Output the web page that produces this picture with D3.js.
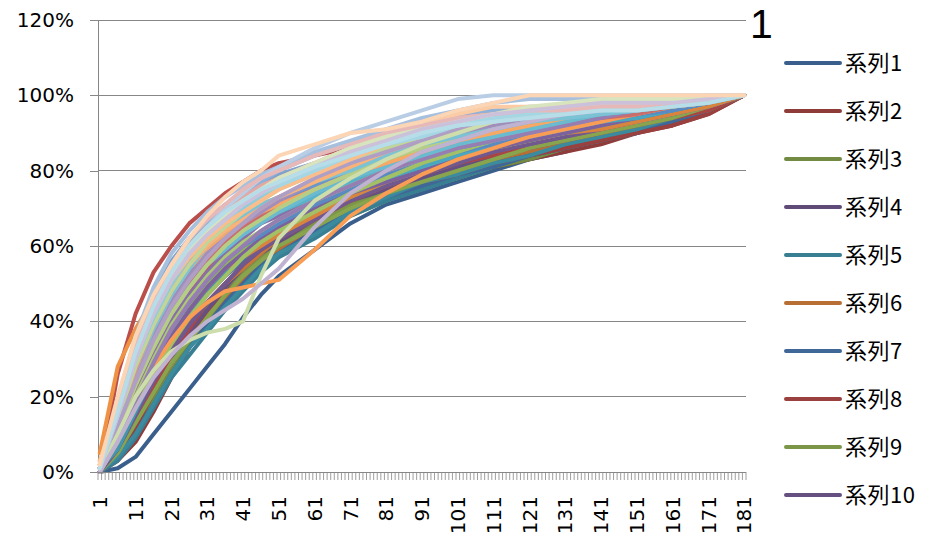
<!DOCTYPE html>
<html>
<head>
<meta charset="utf-8">
<script src="https://cdn.jsdelivr.net/npm/d3@7/dist/d3.min.js"></script>
<style>
  body { margin: 0; background: #ffffff; }
  svg { display: block; }
</style>
</head>
<body>
<svg id="chart" width="929" height="539"></svg>
<script>
// Category axis: days 1..181, labelled every tenth day
const categories = d3.range(1, 182);
const tickLabels = [1, 11, 21, 31, 41, 51, 61, 71, 81, 91, 101, 111, 121, 131, 141, 151, 161, 171, 181];
const yTicks = [0, 0.2, 0.4, 0.6, 0.8, 1.0, 1.2];
const chartTitle = "1";

// Categories at which each series' cumulative share (%) is recorded
const knotCategories = [1, 6, 11, 16, 21, 26, 31, 36, 41, 46, 51, 61, 71, 81, 91, 101, 111, 121, 131, 141, 151, 161, 171, 181];

const s1  = [0,1,4,10,16,22,28,34,41,47,52,59,66,71,74,77,80,83,85,88,91,93,96,100];
const s2  = [0,3,8,16,25,33,40,46,51,55,58,64,69,73,76,79,81,83,85,87,90,92,95,100];
const s3  = [0,4,11,19,27,34,40,45,50,54,58,63,68,72,76,78,81,83,86,88,91,94,97,100];
const s4  = [0,5,13,21,29,36,42,48,52,56,59,64,70,74,77,80,82,84,86,89,91,94,97,100];
const s5  = [0,3,9,17,25,31,37,43,48,53,57,62,68,72,75,78,81,84,86,88,90,93,96,100];
const s6  = [1,6,14,22,30,37,42,46,51,55,59,65,71,75,78,80,83,85,87,89,91,94,97,100];
const s7  = [0,4,11,18,26,33,39,45,50,55,58,64,69,73,76,79,81,84,86,88,90,93,96,100];
const s8  = [0,5,12,21,29,36,43,48,53,57,60,66,70,74,77,79,82,84,86,88,90,92,95,100];
const s9  = [0,6,15,24,32,38,44,49,53,57,61,66,71,75,78,81,83,86,88,90,92,95,97,100];
const s10 = [0,5,13,22,30,37,43,49,54,58,61,67,72,75,78,81,84,86,88,90,92,95,97,100];
const s11 = [0,4,10,18,26,33,38,44,49,54,58,63,69,73,77,79,82,84,87,89,91,94,96,100];
const s12 = [2,8,17,26,33,40,45,50,54,58,62,67,72,76,79,82,85,87,89,91,93,95,97,100];
const s13 = [0,7,16,25,34,41,47,52,56,60,63,68,73,77,80,82,85,87,89,91,93,95,97,100];
const s14 = [0,6,14,23,31,38,45,50,55,59,62,67,72,76,79,82,84,86,88,90,92,94,96,100];
const s15 = [0,5,13,21,29,35,41,47,52,56,60,65,70,74,77,80,83,86,88,90,92,94,97,100];
const s16 = [0,6,15,24,32,39,45,50,55,59,62,67,72,76,79,82,85,87,89,91,93,95,97,100];
const s17 = [1,6,16,26,35,42,48,53,57,61,64,69,73,77,80,83,86,88,90,92,93,95,97,100];
const s18 = [3,9,18,28,36,43,49,54,57,60,63,68,73,77,80,83,86,88,90,91,93,95,97,100];
const s19 = [1,10,22,33,43,51,57,62,66,69,72,76,80,83,86,88,90,92,93,94,95,96,98,100];
const s20 = [0,26,42,53,60,66,70,74,77,80,82,84,86,87,88,90,91,92,93,94,95,97,98,100];
const s21 = [1,9,19,29,37,44,50,55,59,62,65,70,74,78,81,84,86,88,90,92,94,96,98,100];
const s22 = [0,8,18,28,36,43,49,54,58,62,65,70,74,77,80,83,86,88,90,92,94,96,98,100];
const s23 = [1,10,21,31,39,46,51,56,60,63,66,71,75,78,81,84,87,89,91,93,94,96,98,100];
const s24 = [5,28,38,46,52,57,61,64,67,70,72,76,80,83,86,89,91,93,95,96,97,98,99,100];
const s25 = [0,9,20,30,38,45,51,56,60,63,66,71,75,79,82,85,87,89,91,93,95,96,98,100];
const s26 = [1,11,23,33,41,48,54,59,63,66,69,73,77,81,84,86,89,91,92,94,95,97,98,100];
const s27 = [0,8,17,26,34,41,47,52,57,61,64,69,74,78,82,85,88,90,92,94,95,97,98,100];
const s28 = [1,10,21,31,40,47,53,58,62,66,68,73,77,80,83,86,88,90,92,94,95,97,98,100];
const s29 = [1,12,25,35,44,51,56,60,64,67,69,73,77,80,83,86,88,90,92,94,95,97,98,100];
const s30 = [2,10,20,28,35,41,45,48,49,50,51,59,68,74,79,83,86,89,91,93,95,97,98,100];
const s31 = [1,13,26,37,46,53,59,63,67,70,72,76,80,83,86,88,90,92,94,95,96,97,98,100];
const s32 = [0,11,23,34,43,50,56,61,65,68,71,75,79,82,85,87,89,91,93,94,95,97,98,100];
const s33 = [1,9,20,30,39,46,52,57,61,64,67,72,76,80,83,86,89,91,93,95,96,97,98,100];
const s34 = [0,9,19,29,38,45,51,56,60,64,67,72,76,80,83,86,88,90,92,94,96,97,98,100];
const s35 = [1,12,24,34,42,49,55,59,63,66,69,74,78,81,84,87,89,91,93,95,96,97,98,100];
const s36 = [2,14,28,39,47,54,59,63,66,69,71,75,79,82,85,88,90,92,94,96,97,97,98,100];
const s37 = [0,18,34,47,56,62,67,71,74,77,79,82,85,87,89,91,93,95,96,97,97,98,99,100];
const s38 = [1,14,28,39,48,55,60,64,68,71,73,77,81,84,87,89,91,93,95,96,97,98,99,100];
const s39 = [1,11,23,33,42,49,55,60,64,67,70,75,79,83,86,89,91,93,95,96,97,98,99,100];
const s40 = [0,12,25,36,45,52,58,62,66,69,72,77,81,85,88,90,92,94,95,96,97,98,99,100];
const s41 = [1,13,27,38,47,54,60,64,68,71,73,77,80,84,87,89,91,93,94,95,96,97,98,100];
const s42 = [2,15,30,41,49,55,60,64,67,70,73,77,81,85,88,91,93,95,97,97,97,98,99,100];
const s43 = [1,17,33,45,54,61,66,70,74,77,80,84,87,90,93,95,96,97,97,98,98,99,99,100];
const s44 = [0,13,27,39,48,56,62,66,70,73,76,80,84,87,90,92,94,95,96,97,98,98,99,100];
const s45 = [1,14,28,39,48,55,61,65,69,72,75,79,83,86,89,92,94,96,97,98,98,99,99,100];
const s46 = [1,12,24,35,44,51,57,62,66,70,73,78,82,85,88,91,93,95,96,97,98,98,99,100];
const s47 = [1,15,30,41,50,57,62,66,70,73,76,80,84,87,90,92,94,95,96,97,98,99,99,100];
const s48 = [3,16,31,42,51,57,62,66,69,72,75,79,83,87,90,92,94,96,97,97,98,99,99,100];
const s49 = [1,19,36,49,58,64,69,73,76,79,81,85,88,91,94,96,98,99,99,99,99,99,100,100];
const s50 = [1,16,32,44,53,60,65,69,73,76,78,82,86,89,92,94,95,96,97,97,98,99,99,100];
const s51 = [1,10,20,27,32,35,37,38,40,52,62,72,78,83,87,90,93,95,96,97,98,98,99,100];
const s52 = [0,8,17,25,31,36,40,43,46,50,54,65,74,80,85,88,91,93,95,96,97,98,99,100];
const s53 = [1,15,30,42,51,58,63,67,71,74,76,80,84,87,89,92,94,95,96,96,97,98,99,100];
const s54 = [2,17,33,45,54,60,65,69,72,75,78,82,86,89,92,95,97,97,97,98,98,99,99,100];
const s55 = [1,16,31,43,52,59,65,70,74,78,81,86,90,93,96,99,100,100,100,100,100,100,100,100];
const s56 = [1,17,34,46,55,62,67,71,75,78,80,84,87,90,92,94,95,96,96,97,97,98,99,100];
const s57 = [2,16,31,43,52,59,64,68,72,75,78,82,86,89,91,93,95,97,98,99,99,99,99,100];
const s58 = [1,15,30,42,51,58,63,67,71,74,77,81,85,88,91,93,95,96,97,98,98,98,99,100];
const s59 = [1,16,32,44,53,60,65,69,72,75,77,81,84,87,90,92,93,94,95,96,96,97,98,100];
const s60 = [2,20,36,47,55,62,68,73,77,80,84,87,90,91,93,96,98,100,100,100,100,100,100,100];

const seriesList = [s1,s2,s3,s4,s5,s6,s7,s8,s9,s10,s11,s12,s13,s14,s15,s16,s17,s18,s19,s20,
  s21,s22,s23,s24,s25,s26,s27,s28,s29,s30,s31,s32,s33,s34,s35,s36,s37,s38,s39,s40,
  s41,s42,s43,s44,s45,s46,s47,s48,s49,s50,s51,s52,s53,s54,s55,s56,s57,s58,s59,s60];
const legendCount = 10;

// Office theme accents, cycled per series; each pass of six gets a lighter shade
const accents = ["#4F81BD", "#C0504D", "#9BBB59", "#8064A2", "#4BACC6", "#F79646"];
const shadeLevels = [-0.26, -0.2, -0.12, -0.03, 0.07, 0.17, 0.27, 0.38, 0.5, 0.6];

function shade(hex, t) {
  const c = d3.rgb(hex);
  const f = v => t < 0 ? v * (1 + t) : v + (255 - v) * t;
  return d3.rgb(f(c.r), f(c.g), f(c.b)).formatHex();
}
const seriesColor = i => shade(accents[i % 6], shadeLevels[Math.floor(i / 6)]);

const svg = d3.select("#chart");
const plotLeft = 98, plotRight = 746, plotTop = 20, plotBottom = 472;

const x = d3.scaleBand().domain(categories).range([plotLeft, plotRight]).paddingInner(0).paddingOuter(0);
const cx = c => x(c) + x.bandwidth() / 2;
const y = d3.scaleLinear().domain([0, 1.2]).range([plotBottom, plotTop]);

const gridColor = "#878787";

// Horizontal gridlines
svg.append("g")
  .selectAll("line")
  .data(yTicks.filter(d => d > 0))
  .join("line")
  .attr("x1", plotLeft).attr("x2", plotRight)
  .attr("y1", d => y(d)).attr("y2", d => y(d))
  .attr("stroke", gridColor).attr("stroke-width", 1)
  .attr("shape-rendering", "crispEdges");

// Value axis
const yAxis = svg.append("g")
  .attr("transform", `translate(${plotLeft},0)`)
  .call(d3.axisLeft(y).tickValues(yTicks).tickFormat(d3.format(".0%")).tickSize(8).tickPadding(16));
yAxis.select(".domain").attr("stroke", gridColor).attr("shape-rendering", "crispEdges");
yAxis.selectAll(".tick line").attr("stroke", gridColor).attr("shape-rendering", "crispEdges");
yAxis.selectAll(".tick text")
  .attr("font-family", "'DejaVu Sans', sans-serif")
  .attr("font-size", 20)
  .attr("fill", "#000");

// Series lines
const line = d3.line()
  .x(d => cx(d.c))
  .y(d => y(d.v / 100));

svg.append("g")
  .attr("fill", "none")
  .attr("stroke-width", 4)
  .attr("stroke-linejoin", "round")
  .attr("stroke-linecap", "round")
  .selectAll("path")
  .data(seriesList)
  .join("path")
  .attr("stroke", (d, i) => seriesColor(i))
  .attr("d", vals => line(vals.map((v, k) => ({ c: knotCategories[k], v }))));

// Category axis: line, a tick between every category, labels every tenth
const xAxis = svg.append("g");
xAxis.append("line")
  .attr("x1", plotLeft).attr("x2", plotRight)
  .attr("y1", plotBottom).attr("y2", plotBottom)
  .attr("stroke", gridColor).attr("shape-rendering", "crispEdges");
xAxis.selectAll("line.tick")
  .data(categories.map(c => x(c)).concat([plotRight]))
  .join("line")
  .attr("class", "tick")
  .attr("x1", d => d).attr("x2", d => d)
  .attr("y1", plotBottom).attr("y2", plotBottom + 8)
  .attr("stroke", gridColor).attr("stroke-width", 0.8);
xAxis.selectAll("text")
  .data(tickLabels)
  .join("text")
  .attr("transform", d => `translate(${cx(d)},${plotBottom + 24}) rotate(-90)`)
  .attr("text-anchor", "end")
  .attr("dy", "0.36em")
  .attr("font-family", "'DejaVu Sans', sans-serif")
  .attr("font-size", 20)
  .attr("fill", "#000")
  .text(d => d);

// Title-like marker at the top right
svg.append("text")
  .attr("x", 750).attr("y", 38)
  .attr("font-family", "'Liberation Sans', sans-serif")
  .attr("font-size", 41)
  .attr("fill", "#000")
  .text(chartTitle);

// Legend (first ten series)
const legend = svg.append("g")
  .selectAll("g")
  .data(d3.range(legendCount))
  .join("g")
  .attr("transform", i => `translate(786,${63 + i * 48})`);
legend.append("line")
  .attr("x1", 0).attr("x2", 54)
  .attr("stroke", i => seriesColor(i))
  .attr("stroke-width", 4)
  .attr("stroke-linecap", "round");
legend.append("text")
  .attr("x", 59)
  .attr("dy", "0.36em")
  .attr("font-family", "'Noto Sans CJK JP', sans-serif")
  .attr("font-size", 22)
  .attr("letter-spacing", 0.5)
  .attr("fill", "#000")
  .text(i => "系列" + (i + 1));
</script>
</body>
</html>
